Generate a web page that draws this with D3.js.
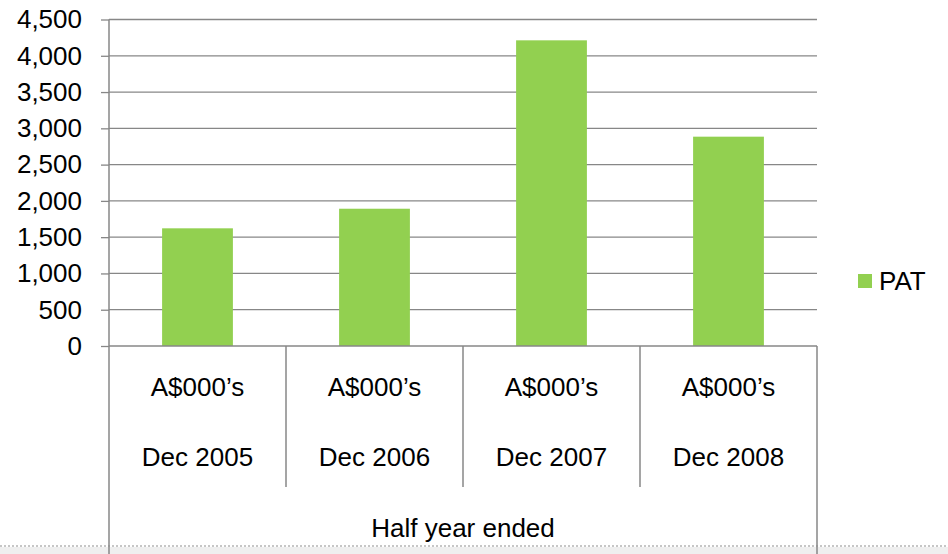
<!DOCTYPE html>
<html>
<head>
<meta charset="utf-8">
<script src="https://cdn.jsdelivr.net/npm/d3@7"></script>
<style>
    body { margin: 0; background: #fff; }
    svg { display: block; font-family: "Liberation Sans", Arial, sans-serif; }
</style>
</head>
<body>
<svg id="chart" width="948" height="554"></svg>
<script>
const periods = ["Dec 2005", "Dec 2006", "Dec 2007", "Dec 2008"];
const unitLabel = "A$000\u2019s";
const groupLabel = "Half year ended";
const seriesName = "PAT";
const patValues = [1622, 1892, 4213, 2885];
const yTicks = [0, 500, 1000, 1500, 2000, 2500, 3000, 3500, 4000, 4500];

const width = 948;
const height = 554;
const plotLeft = 109;
const plotRight = 817;
const plotTop = 19.5;
const plotBottom = 346;
const fontSize = 26;
const gridColor = "#878787";
const barColor = "#92D050";

const svg = d3.select("#chart");

const xScale = d3.scaleBand()
    .domain(periods)
    .range([plotLeft, plotRight]);

const yScale = d3.scaleLinear()
    .domain([0, 4500])
    .range([plotBottom, plotTop]);

// bottom page strip
svg.append("rect")
    .attr("x", 0).attr("y", 547)
    .attr("width", width).attr("height", height - 547)
    .attr("fill", "#efefef");
svg.append("line")
    .attr("x1", 0).attr("x2", width)
    .attr("y1", 546).attr("y2", 546)
    .attr("stroke", "#c6c6c6")
    .attr("stroke-width", 2)
    .attr("stroke-dasharray", "2,2");

// gridlines
svg.append("g")
    .selectAll("line")
    .data(yTicks.filter(function (d) { return d > 0; }))
    .join("line")
    .attr("x1", plotLeft).attr("x2", plotRight)
    .attr("y1", function (d) { return yScale(d); })
    .attr("y2", function (d) { return yScale(d); })
    .attr("stroke", gridColor)
    .attr("stroke-width", 1.3);

// y-axis
const yAxis = svg.append("g")
    .attr("transform", `translate(${plotLeft}, 0)`)
    .call(d3.axisLeft(yScale)
        .tickValues(yTicks)
        .tickFormat(d3.format(","))
        .tickSize(8)
        .tickPadding(19));
yAxis.select(".domain").remove();
yAxis.selectAll(".tick line").attr("stroke", gridColor).attr("stroke-width", 1.3);
yAxis.selectAll(".tick text")
    .attr("font-size", fontSize)
    .attr("font-family", "Liberation Sans, Arial, sans-serif")
    .attr("fill", "#000");

// bars
const barWidth = xScale.bandwidth() * 0.4;
svg.append("g")
    .selectAll("rect")
    .data(patValues)
    .join("rect")
    .attr("x", function (d, i) { return xScale(periods[i]) + (xScale.bandwidth() - barWidth) / 2; })
    .attr("y", function (d) { return yScale(d); })
    .attr("width", barWidth)
    .attr("height", function (d) { return plotBottom - yScale(d); })
    .attr("fill", barColor);

// category table lines
svg.append("line")
    .attr("x1", plotLeft).attr("x2", plotRight)
    .attr("y1", plotBottom).attr("y2", plotBottom)
    .attr("stroke", gridColor).attr("stroke-width", 1.5);
svg.append("g")
    .selectAll("line")
    .data(periods.slice(1))
    .join("line")
    .attr("x1", function (d) { return xScale(d); })
    .attr("x2", function (d) { return xScale(d); })
    .attr("y1", plotBottom).attr("y2", 487)
    .attr("stroke", gridColor).attr("stroke-width", 1.5);
// left axis runs full height, right edge only below the plot
svg.append("line")
    .attr("x1", plotLeft).attr("x2", plotLeft)
    .attr("y1", plotTop).attr("y2", height)
    .attr("stroke", gridColor).attr("stroke-width", 1.5);
svg.append("line")
    .attr("x1", plotRight).attr("x2", plotRight)
    .attr("y1", plotBottom).attr("y2", height)
    .attr("stroke", gridColor).attr("stroke-width", 1.5);

// category labels
const labels = svg.append("g")
    .attr("font-size", fontSize)
    .attr("text-anchor", "middle")
    .attr("fill", "#000");
labels.selectAll(".unit")
    .data(periods)
    .join("text")
    .attr("class", "unit")
    .attr("x", function (d) { return xScale(d) + xScale.bandwidth() / 2; })
    .attr("y", 387)
    .attr("dy", "0.35em")
    .text(unitLabel);
labels.selectAll(".period")
    .data(periods)
    .join("text")
    .attr("class", "period")
    .attr("x", function (d) { return xScale(d) + xScale.bandwidth() / 2; })
    .attr("y", 457)
    .attr("dy", "0.35em")
    .text(function (d) { return d; });
labels.append("text")
    .attr("x", (plotLeft + plotRight) / 2)
    .attr("y", 528)
    .attr("dy", "0.35em")
    .text(groupLabel);

// legend
const legend = svg.append("g").attr("transform", "translate(858, 281)");
legend.append("rect")
    .attr("x", 0).attr("y", -7)
    .attr("width", 14).attr("height", 14)
    .attr("fill", barColor);
legend.append("text")
    .attr("x", 21)
    .attr("dy", "0.35em")
    .attr("font-size", fontSize)
    .attr("fill", "#000")
    .text(seriesName);
</script>
</body>
</html>
